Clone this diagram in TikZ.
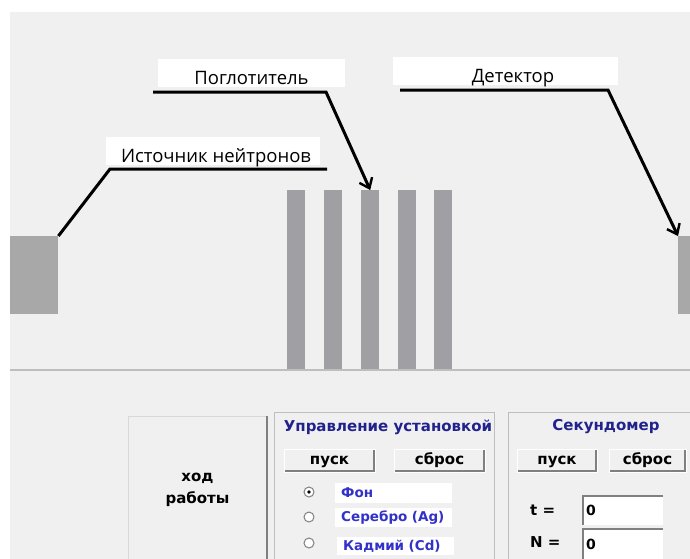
\documentclass[tikz,border=0pt]{standalone}
\usepackage{fontspec}
\setmainfont{Open Sans}
\newfontfamily\uifont{DejaVu Sans}
\usetikzlibrary{arrows.meta, positioning, calc}
\definecolor{panelbg}{RGB}{240,240,240}
\definecolor{barcol}{RGB}{160,160,164}
\definecolor{boxcol}{RGB}{168,168,168}
\definecolor{framecol}{RGB}{190,190,190}
\definecolor{titleblue}{RGB}{34,34,140}
\definecolor{radioblue}{RGB}{50,50,200}
\tikzset {
    bar/.style = {
        fill = barcol,
        anchor = north west,
        inner sep = 0pt,
        minimum width = 18pt,
        minimum height = 180pt
    },
    block/.style = {
        fill = boxcol,
        anchor = north west,
        inner sep = 0pt,
        minimum height = 78pt
    },
    lbl/.style = {
        fill = white,
        inner sep = 0pt,
        minimum height = 28pt,
        text height = 22pt,
        text depth = 0pt,
        font = {\fontsize{18.5}{22}\selectfont}
    },
    leader/.style = {
        line width = 3pt,
        draw = black
    },
    tip/.style = {
        -{Straight Barb[length=9pt, width=14pt, line width=2.4pt]}
    },
    frame/.style = {
        draw = framecol,
        line width = 1pt,
        anchor = north west,
        inner sep = 0pt
    },
    title/.style = {
        text = titleblue,
        font = {\uifont\bfseries\fontsize{15}{17}\selectfont}
    },
    btn/.style = {
        fill = panelbg,
        draw = white,
        line width = 1pt,
        inner sep = 0pt,
        minimum height = 23pt,
        text height = 8pt,
        text depth = 0pt,
        font = {\uifont\bfseries\fontsize{15}{17}\selectfont},
        path picture = {
            \draw [gray, line width = 4pt]
                (path picture bounding box.south west) -- (path picture bounding box.south east)
                -- (path picture bounding box.north east);
        }
    },
    radio/.style = {
        draw = gray,
        line width = 1pt,
        fill = white,
        shape = circle,
        inner sep = 0pt,
        minimum size = 10pt
    },
    radiolbl/.style = {
        fill = white,
        anchor = west,
        text = radioblue,
        text width = 105pt,
        inner xsep = 6pt,
        inner ysep = 0pt,
        minimum height = 20pt,
        align = left,
        font = {\uifont\bfseries\fontsize{13.5}{15}\selectfont}
    },
    field/.style = {
        fill = white,
        inner xsep = 4pt,
        inner ysep = 0pt,
        text width = 73pt,
        align = left,
        font = {\uifont\bfseries\fontsize{14}{16}\selectfont},
        path picture = {
            \draw [gray, line width = 4pt]
                (path picture bounding box.south west) -- (path picture bounding box.north west)
                -- (path picture bounding box.north east);
        }
    },
    uitext/.style = {
        anchor = west,
        inner sep = 0pt,
        font = {\uifont\bfseries\fontsize{15}{17}\selectfont}
    }
}
\begin{document}
\begin{tikzpicture}[x=1pt, y=-1pt]
        \useasboundingbox (0, 0) rectangle (690, 558);
        \fill [panelbg] (10, 12) rectangle (700, 570);

        % Setup : source, five absorber plates, detector, floor line
        \node [block, minimum width=48pt] at (10, 236)          (source)    {};
        \node [bar] at (287, 190)                               (bar1)      {};
        \node [bar] at (324, 190)                               (bar2)      {};
        \node [bar] at (361, 190)                               (bar3)      {};
        \node [bar] at (398, 190)                               (bar4)      {};
        \node [bar] at (434, 190)                               (bar5)      {};
        \node [block, minimum width=30pt] at (678, 236)         (detector)  {};
        \draw [framecol, line width=2pt] (10, 370) -- (700, 370);

        % Labels with their leaders
        \node [lbl, minimum width=187pt] at (251.5, 73)         (absorber)  {Поглотитель};
        \node [lbl, minimum width=225pt] at (505.5, 71)         (detlbl)    {\hspace*{15pt}Детектор};
        \node [lbl, minimum width=214pt] at (213, 151)          (srclbl)    {\hspace*{6pt}Источник нейтронов};

        \coordinate (abs0) at (153, 92);
        \coordinate (abs1) at (326, 92);
        \coordinate (det0) at (400, 90);
        \coordinate (det1) at (608, 90);
        \coordinate (src0) at (327, 169);
        \coordinate (src1) at (110, 169);

        \draw [leader, tip] (abs0) -- (abs1) -- (bar3.north);
        \draw [leader, tip] (det0) -- (det1) -- (detector.north west);
        \draw [leader]      (src0) -- (src1) -- (source.north east);

        % Control panel : work box, setup group, stopwatch group
        \node [frame, draw=framecol!60, minimum width=138pt, minimum height=146pt,
               font={\uifont\bfseries\fontsize{15}{22}\selectfont}, align=center]
              at (128, 416)                                     (work)      {ход\\работы};
        \draw [gray, line width=1.5pt] (work.north east) -- (work.south east);
        \node [frame, minimum width=220pt, minimum height=160pt] at (274, 412) (ctrl)  {};
        \node [frame, minimum width=200pt, minimum height=160pt] at (508, 412) (watch) {};

        \node [title] at (388, 427)                             (ctrltitle) {Управление установкой};
        \node [title] at (606, 427)                             (watchtitle) {Секундомер};

        \node [btn, minimum width=91pt] at (329.5, 460.5)       (ctrlstart) {пуск};
        \node [btn, minimum width=91pt] at (439.5, 460.5)       (ctrlreset) {сброс};
        \node [btn, minimum width=80pt] at (557, 460.5)         (watchstart) {пуск};
        \node [btn, minimum width=77pt] at (647.5, 460.5)       (watchreset) {сброс};

        \node [radio] at (309, 492)                             (r1)        {};
        \node [radio] at (309, 517)                             (r2)        {};
        \node [radio] at (309, 543)                             (r3)        {};
        \fill (r1.center) circle (1.8);

        \node [radiolbl] at (335, 493)                          (bg)        {Фон};
        \node [radiolbl, minimum height=19pt] at (335, 517.5)   (silver)    {Серебро (Ag)};
        \node [radiolbl, minimum height=18pt] at (337, 546)     (cadmium)   {Кадмий (Cd)};

        \node [uitext] at (530, 510)                            (tlbl)      {t =};
        \node [uitext] at (530, 542)                            (nlbl)      {N =};
        \node [field, minimum height=30pt] at (622.5, 510)      (tval)      {0};
        \node [field, minimum height=32pt] at (622.5, 544)      (nval)      {0};
    \end{tikzpicture}
\end{document}
